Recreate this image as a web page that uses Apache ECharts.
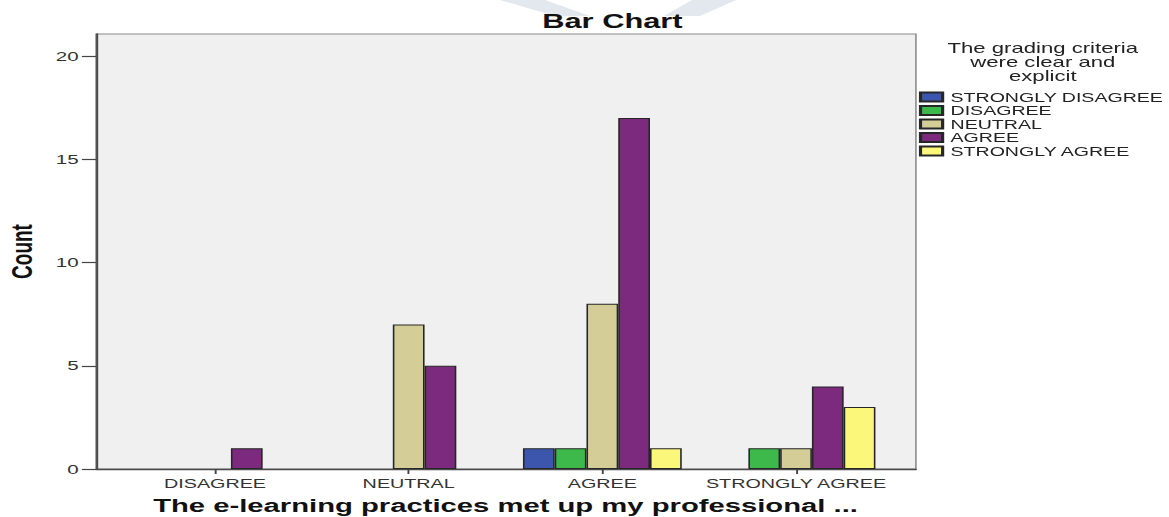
<!DOCTYPE html>
<html>
<head>
<meta charset="utf-8">
<script src="https://cdn.jsdelivr.net/npm/echarts@6/dist/echarts.min.js"></script>
<style>
  html, body { margin: 0; padding: 0; background: #ffffff; overflow: hidden; }
  #wrap { width: 1169px; height: 517px; overflow: hidden; }
  /* the chart is laid out in a narrower frame and widened horizontally */
  #chart { width: 740px; height: 517px; transform-origin: 0 0; }
</style>
</head>
<body>
<div id="wrap"><div id="chart"></div></div>
<script>
// Counts per answer to "The e-learning practices met up my professional ..."
const categories = ['DISAGREE', 'NEUTRAL', 'AGREE', 'STRONGLY AGREE'];
const seriesNames = ['STRONGLY DISAGREE', 'DISAGREE', 'NEUTRAL', 'AGREE', 'STRONGLY AGREE'];
const stronglyDisagree = [0, 0, 1, 0];
const disagree         = [0, 0, 1, 1];
const neutral          = [0, 7, 8, 1];
const agree            = [1, 5, 17, 4];
const stronglyAgree    = [0, 0, 1, 3];
const yTicks = [0, 5, 10, 15, 20];

const colors = ['#3d56ad', '#3cb94a', '#d4cd98', '#7b2a7d', '#faf77a'];
const values = [stronglyDisagree, disagree, neutral, agree, stronglyAgree];

const STRETCH = 1.58;
const W = 1169 / STRETCH;
const el = document.getElementById('chart');
el.style.width = W + 'px';
el.style.transform = 'scaleX(' + STRETCH + ')';

const chart = echarts.init(el, null, { renderer: 'svg', width: W, height: 517 });
const FONT = 'Liberation Sans, Arial, sans-serif';

const panel = { left: 60.8, right: W - 579.7, top: 34, bottom: 48 };
const plot = { left: 74.8, right: W - 565.1, top: 56, bottom: 48 };

const option = {
  animation: false,
  backgroundColor: '#ffffff',
  title: [
    {
      text: 'Bar Chart',
      left: 382.6, top: 6, textAlign: 'center',
      textStyle: { fontFamily: FONT, fontSize: 19.5, fontWeight: 'bold', color: '#111' }
    },
    {
      text: 'The grading criteria\nwere clear and\nexplicit',
      left: 660, top: 41, textAlign: 'center', padding: 0,
      textStyle: { fontFamily: FONT, fontSize: 14, fontWeight: 'normal', color: '#222', lineHeight: 14 }
    }
  ],
  graphic: [
    { type: 'polygon', z: -1, silent: true,
      shape: { points: [[500 / STRETCH, 0], [545 / STRETCH, 0], [590 / STRETCH, 16], [555 / STRETCH, 16]] },
      style: { fill: '#e2e8ee' } },
    { type: 'polygon', z: -1, silent: true,
      shape: { points: [[692 / STRETCH, 0], [736 / STRETCH, 0], [700 / STRETCH, 16], [664 / STRETCH, 16]] },
      style: { fill: '#e2e8ee' } }
  ],
  legend: {
    left: 581.6, top: 90.25, orient: 'vertical', padding: 0,
    itemWidth: 14, itemHeight: 9, itemGap: 0,
    icon: 'rect',
    data: seriesNames,
    textStyle: { fontFamily: FONT, fontSize: 12.4, color: '#222', lineHeight: 13.5 }
  },
  grid: [
    Object.assign({ show: true, backgroundColor: '#f0f0f0', borderColor: '#8a8a8a', borderWidth: 1,
      containLabel: false, outerBoundsMode: 'none' }, panel),
    Object.assign({ containLabel: false, outerBoundsMode: 'none' }, plot)
  ],
  xAxis: [
    {
      type: 'value', gridIndex: 0, min: 0, max: 1,
      axisLine: { show: true, lineStyle: { color: '#4a4a4a', width: 1.3 } },
      axisTick: { show: false }, axisLabel: { show: false }, splitLine: { show: false }
    },
    {
      type: 'category', gridIndex: 1, data: categories,
      axisLine: { show: false },
      axisTick: { show: true, alignWithLabel: true, length: 5, lineStyle: { color: '#444', width: 1.2 } },
      axisLabel: { interval: 0, hideOverlap: false, fontFamily: FONT, fontSize: 12.5, color: '#333', margin: 8 },
      name: 'The e-learning practices met up my professional ...',
      nameLocation: 'middle', nameGap: 27,
      nameTextStyle: { fontFamily: FONT, fontSize: 18.5, fontWeight: 'bold', color: '#111' }
    }
  ],
  yAxis: [
    {
      type: 'value', gridIndex: 0, min: 0, max: 1,
      axisLine: { show: true, lineStyle: { color: '#4a4a4a', width: 1.3 } },
      axisTick: { show: false }, axisLabel: { show: false }, splitLine: { show: false },
      name: 'Count', nameLocation: 'middle', nameGap: 38, nameRotate: 90,
      nameTextStyle: { fontFamily: 'Liberation Sans Narrow, Arial Narrow, sans-serif', fontSize: 19, fontWeight: 'bold', color: '#111' }
    },
    {
      type: 'value', gridIndex: 1, min: yTicks[0], max: yTicks[yTicks.length - 1], interval: 5,
      offset: plot.left - panel.left,
      axisLine: { show: false },
      axisTick: { show: true, length: 9, lineStyle: { color: '#444', width: 1.2 } },
      axisLabel: { fontFamily: FONT, fontSize: 13, color: '#333', margin: 11 },
      splitLine: { show: false }
    }
  ],
  series: seriesNames.map((name, i) => ({
    name: name,
    type: 'bar',
    xAxisIndex: 1, yAxisIndex: 1,
    barGap: '0%', barCategoryGap: '18%',
    itemStyle: { color: colors[i], borderColor: '#262626', borderWidth: 1 },
    data: values[i].map(v => (v === 0 ? null : v))
  }))
};

chart.setOption(option);
</script>
</body>
</html>
